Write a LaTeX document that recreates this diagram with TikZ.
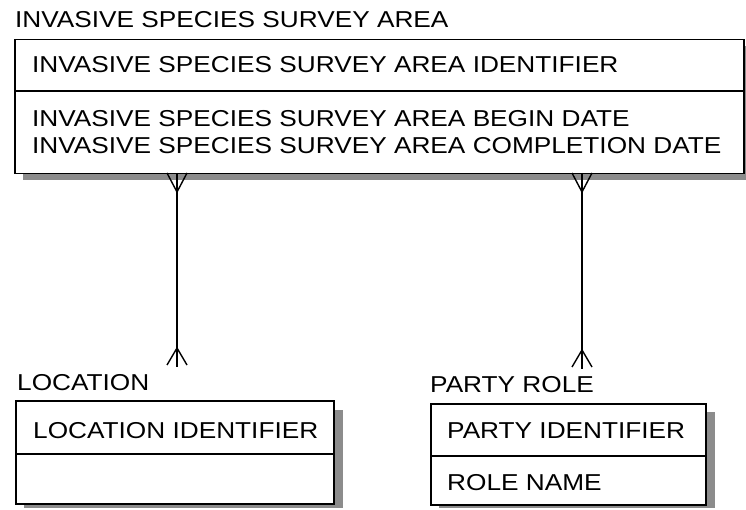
\documentclass[tikz,border=0pt]{standalone}
\usepackage{fontspec}
\setmainfont{Liberation Sans}[FakeStretch=1.14]
\begin{document}
\begin{tikzpicture}[x=1pt,y=-1pt,
  ebox/.style={draw=black, line width=1.5pt, fill=white, anchor=north west, inner sep=0pt},
  eshadow/.style={fill=black!45},
  txt/.style={anchor=base west, inner sep=0pt, font=\fontsize{23}{27}\selectfont},
  conn/.style={line width=1.4pt},
  sep/.style={line width=1.5pt}]
\useasboundingbox (0,0) rectangle (746,510);
% shadows
\fill[eshadow] (23,46) rectangle (752,180);
\fill[eshadow] (24,410) rectangle (343,508);
\fill[eshadow] (439,412) rectangle (715,508);
% boxes
\node[ebox, minimum width=729pt, minimum height=134pt] (isa) at (14,39) {};
\node[ebox, minimum width=318pt, minimum height=103pt] (loc) at (15,400) {};
\node[ebox, minimum width=275pt, minimum height=101pt] (pr) at (430,403) {};
% dividers
\draw[sep] (14,91) -- (743,91);
\draw[sep] (15,454) -- (333,454);
\draw[sep] (430,456) -- (705,456);
% labels
\node[txt] (isat) at (15,27.5) {INVASIVE SPECIES SURVEY AREA};
\node[txt] (isa1) at (32,73) {INVASIVE SPECIES SURVEY AREA IDENTIFIER};
\node[txt] (isa2) at (32,127) {INVASIVE SPECIES SURVEY AREA BEGIN DATE};
\node[txt] (isa3) at (32,153.5) {INVASIVE SPECIES SURVEY AREA COMPLETION DATE};
\node[txt] (loct) at (17,390) {LOCATION};
\node[txt] (loc1) at (33,438) {LOCATION IDENTIFIER};
\node[txt] (prt) at (430,392) {PARTY ROLE};
\node[txt] (pr1) at (447,438) {PARTY IDENTIFIER};
\node[txt] (pr2) at (447,490) {ROLE NAME};
% connector 1
\coordinate (c1t) at (177,173);
\coordinate (c1b) at (177,367);
\draw[conn] (c1t) -- (c1b);
\draw[conn] ([xshift=-10pt]c1t) -- ([yshift=-19pt]c1t) -- ([xshift=10pt]c1t);
\draw[conn] ([xshift=-10pt,yshift=2pt]c1b) -- ([yshift=19pt]c1b) -- ([xshift=10pt,yshift=2pt]c1b);
% connector 2
\coordinate (c2t) at (582,173);
\coordinate (c2b) at (582,369);
\draw[conn] (c2t) -- (c2b);
\draw[conn] ([xshift=-10pt]c2t) -- ([yshift=-19pt]c2t) -- ([xshift=10pt]c2t);
\draw[conn] ([xshift=-10pt,yshift=2pt]c2b) -- ([yshift=19pt]c2b) -- ([xshift=10pt,yshift=2pt]c2b);
\end{tikzpicture}
\end{document}
